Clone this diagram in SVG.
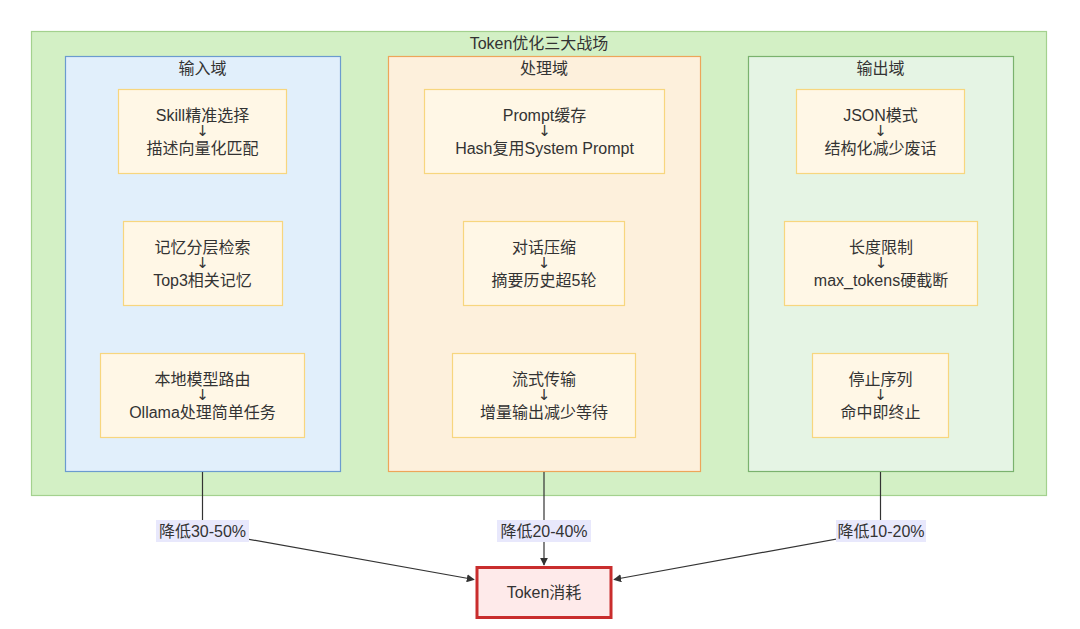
<svg xmlns="http://www.w3.org/2000/svg" width="1080" height="629" viewBox="0 0 1080 629">
<defs>
<style>
text{font-family:"Liberation Sans","Noto Sans CJK SC",sans-serif;font-size:16px;fill:#333;text-anchor:middle;dominant-baseline:central}
text.ar{font-family:"DejaVu Sans","Liberation Sans",sans-serif;font-size:15px;fill:#333}
.node{fill:#fff7e6;stroke:#f7d67e;stroke-width:1.2}
.edge{fill:none;stroke:#333;stroke-width:1.2}
.lbl{fill:#e8e8fc}
</style>
<marker id="arr" viewBox="0 0 10 10" refX="9" refY="5" markerWidth="8" markerHeight="8" markerUnits="userSpaceOnUse" orient="auto">
<path d="M0,0 L10,5 L0,10 z" fill="#333"/>
</marker>
</defs>
<rect width="1080" height="629" fill="#fff"/>
<g id="battlefield">
<rect x="31.5" y="31.5" width="1015" height="464" fill="#d3f0c5" stroke="#a3d18e" stroke-width="1.2"/>
<text x="539" y="43.5">Token优化三大战场</text>
</g>
<g id="input-domain">
<rect x="65.5" y="56.5" width="275" height="415" fill="#e1effb" stroke="#6b9bcf" stroke-width="1.2"/>
<text x="202.5" y="68">输入域</text>
</g>
<g id="process-domain">
<rect x="388.5" y="56.5" width="312" height="415" fill="#fdf0dc" stroke="#eda55a" stroke-width="1.2"/>
<text x="544" y="68">处理域</text>
</g>
<g id="output-domain">
<rect x="748.5" y="56.5" width="265" height="415" fill="#e5f4e4" stroke="#7ab26e" stroke-width="1.2"/>
<text x="880.5" y="68">输出域</text>
</g>
<g id="in1"><rect class="node" x="118.5" y="89.5" width="168" height="84"/><text x="202.5" y="115">Skill精准选择</text><text class="ar" x="202.5" y="131">↓</text><text x="202.5" y="148">描述向量化匹配</text></g>
<g id="in2"><rect class="node" x="123.5" y="221.5" width="159" height="84"/><text x="202.5" y="247">记忆分层检索</text><text class="ar" x="202.5" y="263">↓</text><text x="202.5" y="280">Top3相关记忆</text></g>
<g id="in3"><rect class="node" x="100.5" y="353.5" width="204" height="84"/><text x="202.5" y="379">本地模型路由</text><text class="ar" x="202.5" y="395">↓</text><text x="202.5" y="412">Ollama处理简单任务</text></g>
<g id="pr1"><rect class="node" x="424.5" y="89.5" width="240" height="84"/><text x="544.5" y="115">Prompt缓存</text><text class="ar" x="544.5" y="131">↓</text><text x="544.5" y="148">Hash复用System Prompt</text></g>
<g id="pr2"><rect class="node" x="463.5" y="221.5" width="161" height="84"/><text x="544" y="247">对话压缩</text><text class="ar" x="544" y="263">↓</text><text x="544" y="280">摘要历史超5轮</text></g>
<g id="pr3"><rect class="node" x="452.5" y="353.5" width="183" height="84"/><text x="544" y="379">流式传输</text><text class="ar" x="544" y="395">↓</text><text x="544" y="412">增量输出减少等待</text></g>
<g id="out1"><rect class="node" x="796.5" y="89.5" width="168" height="84"/><text x="880.5" y="115">JSON模式</text><text class="ar" x="880.5" y="131">↓</text><text x="880.5" y="148">结构化减少废话</text></g>
<g id="out2"><rect class="node" x="784.5" y="221.5" width="193" height="84"/><text x="881" y="247">长度限制</text><text class="ar" x="881" y="263">↓</text><text x="881" y="280">max_tokens硬截断</text></g>
<g id="out3"><rect class="node" x="812.5" y="353.5" width="136" height="84"/><text x="880.5" y="379">停止序列</text><text class="ar" x="880.5" y="395">↓</text><text x="880.5" y="412">命中即终止</text></g>
<g id="connectors">
<polyline class="edge" points="202.5,472 202.5,531 474,579.5" marker-end="url(#arr)"/>
<polyline class="edge" points="544,472 544,565" marker-end="url(#arr)"/>
<polyline class="edge" points="880.5,472 880.5,531 614,579.5" marker-end="url(#arr)"/>
<rect class="lbl" x="156" y="520" width="93" height="22"/>
<text x="202.5" y="531">降低30-50%</text>
<rect class="lbl" x="497" y="520" width="94" height="22"/>
<text x="544" y="531">降低20-40%</text>
<rect class="lbl" x="836" y="520" width="90" height="22"/>
<text x="881" y="531">降低10-20%</text>
</g>
<g id="token">
<rect x="477" y="567.5" width="134" height="50" fill="#feeaea" stroke="#c92d2d" stroke-width="3"/>
<text x="544" y="592.5">Token消耗</text>
</g>
</svg>
